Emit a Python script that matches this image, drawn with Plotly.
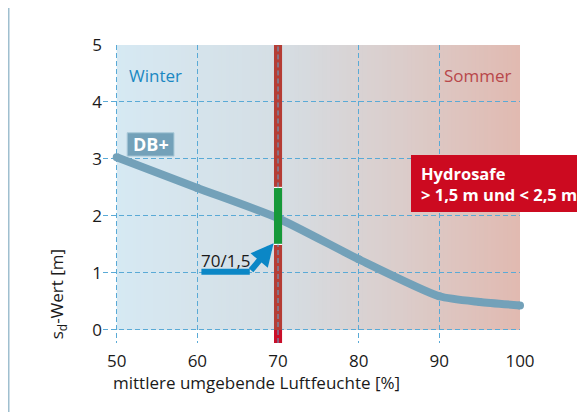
import plotly.graph_objects as go

# ---- data ----
humidity = [50, 60, 70, 80, 90, 95, 100]
sd_db = [3.03, 2.49, 1.96, 1.24, 0.59, 0.49, 0.43]
x_ticks = [50, 60, 70, 80, 90, 100]
y_ticks = [0, 1, 2, 3, 4, 5]
marker_x = 70
hydro_low, hydro_high = 1.5, 2.5
arrow_path_x = [60.5, 66.5]
arrow_path_y = [1.02, 1.02]
arrow_tip = (69.45, 1.52)
arrow_label = "70/1,5"

FONT = "Open Sans"
GRID = "#5aaad6"
XR = [48.3, 100]
YR = [-0.23, 5]

fig = go.Figure()

shapes = []
# gradient background strips (each runs to the right end; later ones cover earlier)
stops = [(50, (214, 233, 243)), (70, (213, 222, 228)), (85, (219, 205, 203)), (100, (225, 186, 177))]
def col(x):
    for (xa, ca), (xb, cb) in zip(stops[:-1], stops[1:]):
        if xa <= x <= xb:
            t = (x - xa) / (xb - xa)
            return "rgb(%d,%d,%d)" % tuple(round(a + (b - a) * t) for a, b in zip(ca, cb))
    return "rgb(%d,%d,%d)" % stops[-1][1]
n = 100
for i in range(n):
    x0 = 50 + 50 * i / n
    x1 = 50 + 50 * (i + 1) / n
    shapes.append(dict(type="rect", xref="x", yref="y", x0=x0, x1=100, y0=0, y1=5,
                       fillcolor=col((x0 + x1) / 2), line=dict(width=0), layer="below"))

fig.add_trace(go.Scatter(x=humidity, y=sd_db, mode="lines+markers",
                         line=dict(color="#73a1b9", width=8, shape="spline", smoothing=0.6),
                         marker=dict(size=8, color="#73a1b9"), cliponaxis=False,
                         hoverinfo="skip", showlegend=False))

# vertical marker bar at 70
bw = 0.5
shapes += [
    dict(type="rect", x0=marker_x - bw, x1=marker_x + bw, y0=YR[0], y1=0, fillcolor="#c90f2a", line=dict(width=0), layer="above"),
    dict(type="rect", x0=marker_x - bw, x1=marker_x + bw, y0=0, y1=5, fillcolor="#b53d35", line=dict(width=0), layer="above"),
    dict(type="rect", x0=marker_x - bw, x1=marker_x + bw, y0=hydro_low, y1=hydro_high, fillcolor="#16993a", line=dict(width=0), layer="above"),
    dict(type="line", x0=marker_x - bw, x1=marker_x + bw, y0=hydro_low, y1=hydro_low, line=dict(color="white", width=1.2), layer="above"),
    dict(type="line", x0=marker_x - bw, x1=marker_x + bw, y0=hydro_high, y1=hydro_high, line=dict(color="white", width=1.2), layer="above"),
    dict(type="line", x0=marker_x, x1=marker_x, y0=YR[0], y1=hydro_low, line=dict(color=GRID, width=1, dash="5px,3px"), layer="above"),
    dict(type="line", x0=marker_x, x1=marker_x, y0=hydro_high, y1=5, line=dict(color=GRID, width=1, dash="5px,3px"), layer="above"),
]

# arrow
fig.add_trace(go.Scatter(x=arrow_path_x, y=arrow_path_y, mode="lines",
                         line=dict(color="#0b87c6", width=6), hoverinfo="skip", showlegend=False))

# DB+ box
shapes.append(dict(type="rect", x0=51.3, x1=57.1, y0=3.05, y1=3.46, fillcolor="#73a1b9",
                   line=dict(color="#a9c9d8", width=1), layer="above"))
# Hydrosafe box
shapes.append(dict(type="rect", xref="paper", yref="paper", x0=0.7386, x1=2, y0=0.4396, y1=0.631,
                   fillcolor="#cc0a20", line=dict(width=0), layer="above"))
# outer frame
shapes.append(dict(type="rect", xref="paper", yref="paper", x0=-0.2266, x1=2, y0=-1, y1=1.1275,
                   line=dict(color="#9fbfcf", width=2), fillcolor="rgba(0,0,0,0)", layer="below"))

annotations = [
    dict(x=arrow_tip[0], y=arrow_tip[1], ax=arrow_path_x[1], ay=arrow_path_y[1], axref="x", ayref="y",
         xref="x", yref="y", text="", showarrow=True, arrowhead=2, arrowsize=0.75, arrowwidth=6,
         arrowcolor="#0b87c6", standoff=0, startstandoff=0),
    dict(x=63.5, y=1.22, xref="x", yref="y", text=arrow_label, showarrow=False,
         font=dict(family=FONT, size=17, color="#1a1a1a")),
    dict(x=54.2, y=3.255, xref="x", yref="y", text="<b>DB+</b>", showarrow=False,
         font=dict(family=FONT, size=18, color="white")),
    dict(x=54.8, y=4.46, xref="x", yref="y", text="Winter", showarrow=False,
         font=dict(family=FONT, size=17, color="#1a88c2")),
    dict(x=94.8, y=4.46, xref="x", yref="y", text="Sommer", showarrow=False,
         font=dict(family=FONT, size=17, color="#b8474a")),
    dict(x=0.758, y=0.535, xref="paper", yref="paper", xanchor="left", yanchor="middle", align="left",
         text="<b>Hydrosafe</b><br><b>&gt; 1,5 m und &lt; 2,5 m</b>", showarrow=False,
         font=dict(family=FONT, size=16.5, color="white")),
    dict(x=-0.11, y=0.164, xref="paper", yref="paper", textangle=-90,
         xanchor="center", yanchor="middle",
         text="s<sub>d</sub>-Wert [m]", showarrow=False,
         font=dict(family=FONT, size=17, color="#1a1a1a")),
    dict(x=0.367, y=-0.134, xref="paper", yref="paper", xanchor="center", yanchor="middle",
         text="mittlere umgebende Luftfeuchte [%]", showarrow=False,
         font=dict(family=FONT, size=17, color="#1a1a1a")),
]

# page body has an 8px margin, so margins are reduced by 8 to keep the plot area in place
fig.update_layout(
    width=585, height=412,
    margin=dict(l=95, r=73, t=37, b=77),
    paper_bgcolor="white", plot_bgcolor="white",
    shapes=shapes, annotations=annotations, showlegend=False,
    font=dict(family=FONT, size=17, color="#1a1a1a"),
)
fig.update_xaxes(range=XR, tickvals=x_ticks, showgrid=True, gridcolor=GRID, gridwidth=1,
                 griddash="5px,3px", zeroline=False, showline=False, ticks="",
                 ticklabelstandoff=6,
                 tickfont=dict(family=FONT, size=17, color="#1a1a1a"), fixedrange=True)
fig.update_yaxes(range=YR, tickvals=y_ticks, showgrid=True, gridcolor=GRID, gridwidth=1,
                 griddash="5px,3px", zeroline=False, showline=False, ticks="",
                 tickfont=dict(family=FONT, size=17, color="#1a1a1a"), fixedrange=True)

fig.write_html("out.html")
